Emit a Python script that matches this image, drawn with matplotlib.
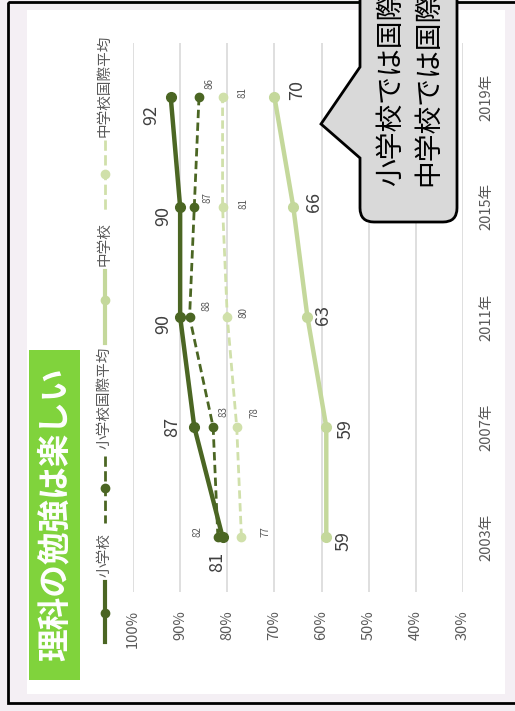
import matplotlib
matplotlib.use("Agg")
import matplotlib.pyplot as plt
from matplotlib.patches import Rectangle, PathPatch
from matplotlib.path import Path
from matplotlib.lines import Line2D

plt.rcParams['font.family'] = ['Noto Sans CJK JP', 'DejaVu Sans']

# data
years = [2003, 2007, 2011, 2015, 2019]
elem = [81, 87, 90, 90, 92]          # 小学校
elem_intl = [82, 83, 88, 87, 86]     # 小学校国際平均
junior = [59, 59, 63, 66, 70]        # 中学校
junior_intl = [77, 78, 80, 81, 81]   # 中学校国際平均
pct_ticks = [100, 90, 80, 70, 60, 50, 40, 30]
title = "理科の勉強は楽しい"
legend_names = ["小学校", "小学校国際平均", "中学校", "中学校国際平均"]
callout_lines = ["小学校では国際", "中学校では国際"]

W, H = 515, 711
dark = "#4b6623"
light = "#c4d89b"
light2 = "#d0e0aa"

fig = plt.figure(figsize=(W / 100, H / 100), dpi=100)
fig.patch.set_facecolor("#f4eff4")

# background layer in pixel coords
bg = fig.add_axes([0, 0, 1, 1], zorder=0)
bg.set_xlim(0, W)
bg.set_ylim(H, 0)
bg.axis("off")
bg.add_patch(Rectangle((27, 10), 478, 684, facecolor="white", edgecolor="none"))
bg.add_patch(Rectangle((8, 1.5), 600, 701, facecolor="none", edgecolor="black", lw=2))
bg.add_patch(Rectangle((29, 350), 51, 330, facecolor="#80d33c", edgecolor="none"))
bg.text(55, 514, title, rotation=90, ha="center", va="center", color="white",
        fontsize=23.5, fontweight="bold")

# legend (rotated)
leg = [(dark, "-", 3, (582, 642), 613, 555),
       (dark, "--", 2, (456, 523), 488, 398),
       (light, "-", 3, (271, 343), 300, 244),
       (light2, "--", 2, (140, 212), 174, 86)]
for (c, ls, lw, (y0, y1), my, ty), name in zip(leg, legend_names):
    bg.add_line(Line2D([105, 105], [y0, y1], color=c, ls=ls, lw=lw))
    bg.plot([105], [my], marker="o", color=c, ms=6)
    bg.text(105, ty, name, rotation=90, ha="center", va="center",
            color="#595959", fontsize=10.5)

# chart (rotated: values along x, years along y)
ax = fig.add_axes([133 / W, 1 - 592 / H, 330 / W, 549 / H], zorder=1)
ax.set_facecolor("none")
ax.set_xlim(100, 30)
ax.set_ylim(2001.0, 2020.96)
for s in ax.spines.values():
    s.set_visible(False)
ax.set_xticks(pct_ticks)
ax.set_xticklabels([f"{p}%" for p in pct_ticks], rotation=90, va="top")
ax.set_yticks(years)
ax.set_yticklabels([f"{y}年" for y in years], rotation=90, va="center")
ax.yaxis.tick_right()
ax.tick_params(axis="x", length=0, pad=13, labelsize=10.5, labelcolor="#595959")
ax.tick_params(axis="y", length=0, pad=12, labelsize=10.5, labelcolor="#595959")
ax.grid(axis="x", color="#d9d9d9", lw=1.2)
ax.grid(axis="y", visible=False)

ax.plot(junior_intl, years, color=light2, lw=2, ls=(0, (3, 1.6)), marker="o", ms=6)
ax.plot(junior, years, color=light, lw=3.2, marker="o", ms=7)
ax.plot(elem_intl, years, color=dark, lw=2, ls=(0, (3, 1.6)), marker="o", ms=6)
ax.plot(elem, years, color=dark, lw=3.2, marker="o", ms=7)

offs = {
    "elem": [(-5, 25), (-22, 0), (-17, 7), (-17, 9), (-19, 18)],
    "elem_intl": [(-20, -5), (10, -15), (17, -11), (13, -9), (10, -13)],
    "junior": [(17, 4), (19, 2), (16, -2), (21, -5), (23, -7)],
    "junior_intl": [(24, -5), (18, -14), (16, -4), (21, -3), (20, -4)],
}
series = [("elem", elem, 13, "#404040"), ("elem_intl", elem_intl, 7, "#595959"),
          ("junior", junior, 13, "#404040"), ("junior_intl", junior_intl, 7, "#595959")]
for key, vals, fs, col in series:
    for yr, v, (dx, dy) in zip(years, vals, offs[key]):
        ax.annotate(str(v), (v, yr), xytext=(dx, -dy), textcoords="offset pixels",
                    rotation=90, ha="center", va="center", fontsize=fs, color=col)

# callout on top
fg = fig.add_axes([0, 0, 1, 1], zorder=2)
fg.set_facecolor("none")
fg.set_xlim(0, W)
fg.set_ylim(H, 0)
fg.axis("off")
verts = [(360, -20), (360, 67), (321, 124), (360, 158), (360, 208),
         (360, 222), (374, 222), (443, 222), (457, 222), (457, 208), (457, -20), (360, -20)]
codes = [Path.MOVETO, Path.LINETO, Path.LINETO, Path.LINETO, Path.LINETO,
         Path.CURVE3, Path.CURVE3, Path.LINETO, Path.CURVE3, Path.CURVE3, Path.LINETO, Path.CLOSEPOLY]
fg.add_patch(PathPatch(Path(verts, codes), facecolor="#d9d9d9", edgecolor="black", lw=2))
fg.text(391, 186, callout_lines[0], rotation=90, ha="center", va="bottom", fontsize=20)
fg.text(428, 186, callout_lines[1], rotation=90, ha="center", va="bottom", fontsize=20)

fig.savefig("out.png", dpi=100, facecolor=fig.get_facecolor())
